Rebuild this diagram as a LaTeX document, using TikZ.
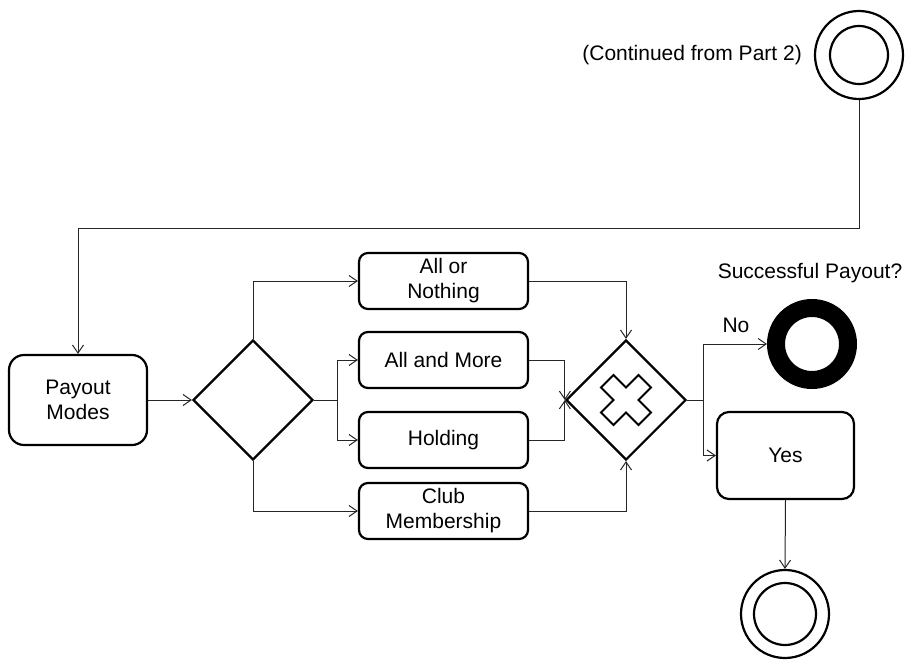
\documentclass[tikz,border=0pt]{standalone}
\usepackage{fontspec}
\setmainfont{Liberation Sans}
\usetikzlibrary{arrows.meta,shapes.geometric}
\begin{document}
\begin{tikzpicture}[x=1pt,y=-1pt,
  every node/.style={font=\fontsize{21}{25}\selectfont},
  shape line/.style={draw=black, line width=2.2pt},
  task/.style={shape line, rectangle, rounded corners=9pt, align=center, inner sep=0pt},
  gateway/.style={shape line, diamond, minimum width=120pt, minimum height=120pt, inner sep=0pt},
  event/.style={shape line, circle, inner sep=0pt},
  flow/.style={draw=black!85, line width=1pt, -{Straight Barb[length=8pt,width=11pt]}},
  label text/.style={inner sep=0pt}
]
\useasboundingbox (0,0) rectangle (905,659);

% start event (link from the previous part)
\node[event, minimum size=88pt] (start) at (859,55) {};
\draw[shape line] (start.center) circle[radius=29pt];
\node[label text, anchor=east] (startlabel) at (802,55) {(Continued from Part 2)};

% payout mode task and split gateway
\node[task, rounded corners=15pt, minimum width=138pt, minimum height=90pt] (payout) at (78,400) {Payout\\Modes};
\node[gateway] (split) at (253,400) {};

% the four payout modes
\node[task, minimum width=169pt, minimum height=56pt] (aon)   at (443.5,281) {All or\\Nothing};
\node[task, minimum width=169pt, minimum height=56pt] (amore) at (443.5,360) {All and More};
\node[task, minimum width=169pt, minimum height=56pt] (hold)  at (443.5,440) {Holding};
\node[task, minimum width=169pt, minimum height=56pt] (club)  at (443.5,511) {Club\\Membership};

% exclusive merge gateway with its cross marker
\node[gateway] (merge) at (626,400) {};
\draw[line width=2pt, shift={(merge.center)}]
  (-25,-12.5) -- (-12.5,-25) -- (0,-12.5) -- (12.5,-25) -- (25,-12.5) -- (12.5,0)
  -- (25,12.5) -- (12.5,25) -- (0,12.5) -- (-12.5,25) -- (-25,12.5) -- (-12.5,0) -- cycle;

% outcome
\node[label text] (question) at (810,273) {Successful Payout?};
\node[event, line width=18pt, minimum size=72pt] (fail) at (812,344) {};
\node[label text] (nolabel) at (736,325) {No};
\node[task, rounded corners=12pt, minimum width=137pt, minimum height=87pt] (yes) at (785.5,455.5) {Yes};
\node[event, minimum size=88pt] (finish) at (785,614) {};
\draw[shape line] (finish.center) circle[radius=31pt];

% sequence flows
\draw[flow] (start.south) -- ++(0,128) -| (payout.north);
\draw[flow] (payout.east) -- (split.west);
\draw[flow] (split.north) |- (aon.west);
\draw[flow] (split.east) -- ++(23,0) |- (amore.west);
\draw[flow] (split.east) -- ++(23,0) |- (hold.west);
\draw[flow] (split.south) |- (club.west);
\draw[flow] (aon.east) -| (merge.north);
\draw[flow] (amore.east) -| (merge.west);
\draw[flow] (hold.east) -| (merge.west);
\draw[flow] (club.east) -| (merge.south);
\draw[flow] (merge.east) -- ++(16,0) |- (fail.west);
\draw[flow] (merge.east) -- ++(16,0) |- (yes.west);
\draw[flow] (yes.south) -- (finish.north);
\end{tikzpicture}
\end{document}
